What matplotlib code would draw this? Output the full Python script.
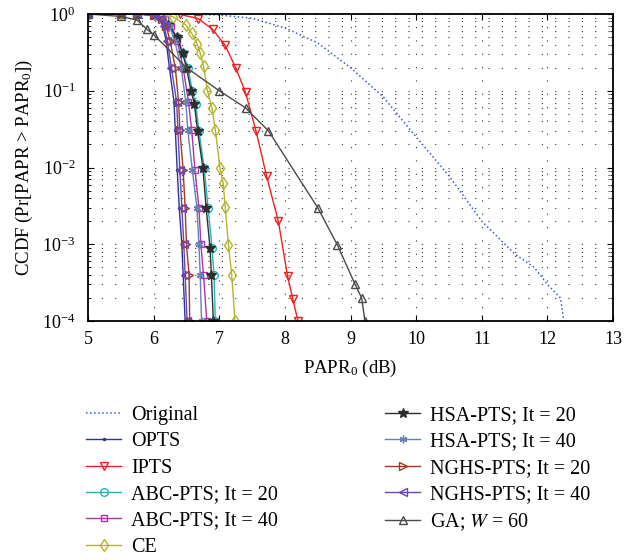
import matplotlib
matplotlib.use("Agg")
import matplotlib.pyplot as plt
from matplotlib.ticker import LogLocator, FixedLocator, NullFormatter

plt.rcParams['font.family'] = ['Liberation Serif', 'DejaVu Serif']
plt.rcParams['mathtext.fontset'] = 'stix'
plt.rcParams['mathtext.default'] = 'regular'

# ---------------- data ----------------
orig_x = [5, 6.0, 6.5, 7.0, 7.5, 8.0, 8.5, 9.0, 9.5, 10.0, 10.5, 11.0, 11.5, 11.8, 12.0, 12.2, 12.25]
orig_y = [1, 1.0, 0.995, 0.97, 0.88, 0.66, 0.42, 0.2, 0.083, 0.025, 0.0078, 0.002, 0.00075, 0.0005, 0.0003, 0.0002, 0.0001]

lvl = [1, 1, 1, 0.97, 0.85, 0.7, 0.45, 0.2, 0.072, 0.031, 0.0092, 0.003, 0.001, 0.0004, 0.0001]
opts_x = [5, 5.5, 5.75, 6.0, 6.09, 6.14, 6.19, 6.24, 6.31, 6.33, 6.36, 6.39, 6.43, 6.45, 6.48]
nghs40_x = [5, 5.5, 5.75, 6.0, 6.1, 6.16, 6.21, 6.27, 6.35, 6.37, 6.40, 6.43, 6.46, 6.48, 6.51]
nghs20_x = [5, 5.5, 5.75, 6.0, 6.12, 6.19, 6.25, 6.33, 6.38, 6.40, 6.45, 6.48, 6.50, 6.54, 6.55]
hsa40_x = [5, 5.5, 5.75, 6.0, 6.15, 6.24, 6.32, 6.42, 6.49, 6.52, 6.59, 6.66, 6.69, 6.71, 6.73]
abc40_x = [5, 5.5, 5.75, 6.0, 6.17, 6.27, 6.36, 6.45, 6.53, 6.58, 6.63, 6.69, 6.72, 6.76, 6.81]

lvl2 = [1, 1, 1, 0.97, 0.72, 0.5, 0.31, 0.2, 0.1, 0.068, 0.03, 0.01, 0.003, 0.00089, 0.0004, 0.0001]
hsa20_x = [5, 5.5, 5.75, 6.0, 6.22, 6.35, 6.44, 6.50, 6.57, 6.62, 6.67, 6.75, 6.80, 6.86, 6.88, 6.91]
abc20_x = [5, 5.5, 5.75, 6.0, 6.23, 6.36, 6.45, 6.52, 6.59, 6.64, 6.69, 6.77, 6.83, 6.89, 6.92, 6.94]

ce_x = [5, 5.5, 5.75, 6.02, 6.30, 6.49, 6.58, 6.66, 6.71, 6.76, 6.82, 6.89, 6.94, 7.01, 7.06, 7.09, 7.14, 7.19, 7.24]
ce_y = [1, 1, 1, 1, 0.92, 0.72, 0.56, 0.41, 0.31, 0.21, 0.10, 0.059, 0.031, 0.010, 0.0062, 0.0031, 0.00098, 0.0004, 0.0001]

ipts_x = [5, 5.5, 5.75, 6.0, 6.4, 6.68, 6.9, 7.09, 7.25, 7.40, 7.56, 7.72, 7.90, 8.04, 8.12, 8.20]
ipts_y = [1, 1, 1, 1, 0.99, 0.87, 0.63, 0.39, 0.2, 0.095, 0.030, 0.0078, 0.0020, 0.00039, 0.000195, 0.0001]

ga_x = [5, 5.5, 5.75, 5.9, 6.0, 6.5, 7.0, 7.4, 7.75, 8.5, 8.8, 9.07, 9.17, 9.22]
ga_y = [1, 0.93, 0.83, 0.63, 0.54, 0.2, 0.1, 0.06, 0.03, 0.003, 0.00098, 0.0003, 0.0002, 0.0001]

labels = ['Original', 'OPTS', 'IPTS', 'ABC-PTS; It = 20', 'ABC-PTS; It = 40', 'CE',
          'HSA-PTS; It = 20', 'HSA-PTS; It = 40', 'NGHS-PTS; It = 20', 'NGHS-PTS; It = 40',
          'GA; $\\mathit{W}$ = 60']

x_ticks = [5, 6, 7, 8, 9, 10, 11, 12, 13]

# ---------------- figure ----------------
fig = plt.figure(figsize=(6.26, 5.60), dpi=100)
ax = fig.add_axes([88/626, 1-321/560, (613-88)/626, (321-14)/560])

lw = 1.0
ms = 5.5
h = []
h += ax.plot(orig_x, orig_y, ':', color='#3a5ad0', lw=1.1)
h += ax.plot(opts_x, lvl, '-', color='#2a3596', lw=lw, marker='.', ms=3)
h += ax.plot(ipts_x, ipts_y, '-', color='#f02020', lw=lw, marker='v', ms=ms, mfc='none')
h += ax.plot(abc20_x, lvl2, '-', color='#1fb5b8', lw=lw, marker='o', ms=ms, mfc='none')
h += ax.plot(abc40_x, lvl, '-', color='#b030b0', lw=lw, marker='s', ms=ms-0.5, mfc='none')
h += ax.plot(ce_x, ce_y, '-', color='#b5b52a', lw=lw, marker='d', ms=ms+0.5, mfc='none')
h += ax.plot(hsa20_x, lvl2, '-', color='#2e2e2e', lw=lw, marker='*', ms=ms+1.5)
h += ax.plot(hsa40_x, lvl, '-', color='#6482b4', lw=lw, marker=(6, 2, 0), ms=ms)
h += ax.plot(nghs20_x, lvl, '-', color='#a33a1a', lw=lw, marker='>', ms=ms, mfc='none')
h += ax.plot(nghs40_x, lvl, '-', color='#6a45b8', lw=lw, marker='<', ms=ms, mfc='none')
h += ax.plot(ga_x, ga_y, '-', color='#4a4a4a', lw=lw, marker='^', ms=ms, mfc='none')

ax.set_yscale('log')
ax.set_xlim(5, 13)
ax.set_ylim(1e-4, 1)
ax.xaxis.set_major_locator(FixedLocator(x_ticks))
ax.yaxis.set_major_locator(LogLocator(base=10, numticks=10))
ax.yaxis.set_minor_locator(LogLocator(base=10, subs=range(2, 10), numticks=20))
ax.yaxis.set_minor_formatter(NullFormatter())
ax.tick_params(which='both', direction='in', top=True, right=True, labelsize=13)
ax.tick_params(which='major', length=4, width=0.8)
ax.tick_params(which='minor', length=2, width=0.6)
ax.tick_params(axis='x', which='major', pad=7)
ax.tick_params(axis='y', which='major', pad=9)
for s in ax.spines.values():
    s.set_linewidth(1.3)

grid_style = dict(color='#333333', linestyle=(0, (1, 11)), linewidth=0.8)
ax.grid(True, which='major', axis='both', **grid_style)
ax.grid(True, which='minor', axis='y', **grid_style)
ax.set_axisbelow(True)

ax.set_xlabel('PAPR$_0$ (dB)', fontsize=13.5, labelpad=7)
ax.set_ylabel('CCDF (Pr[PAPR > PAPR$_0$])', fontsize=13.5, labelpad=5)

leg_kw = dict(frameon=False, fontsize=14.5, handlelength=1.75, handletextpad=0.5,
              labelspacing=0.36, borderaxespad=0, borderpad=0)
fig.legend(h[:6], labels[:6], loc='upper left', bbox_to_anchor=(86/626, 1-406/560), **leg_kw)
fig.legend(h[6:], labels[6:], loc='upper left', bbox_to_anchor=(385/626, 1-406/560), **leg_kw)

fig.savefig('out.png', dpi=100)
